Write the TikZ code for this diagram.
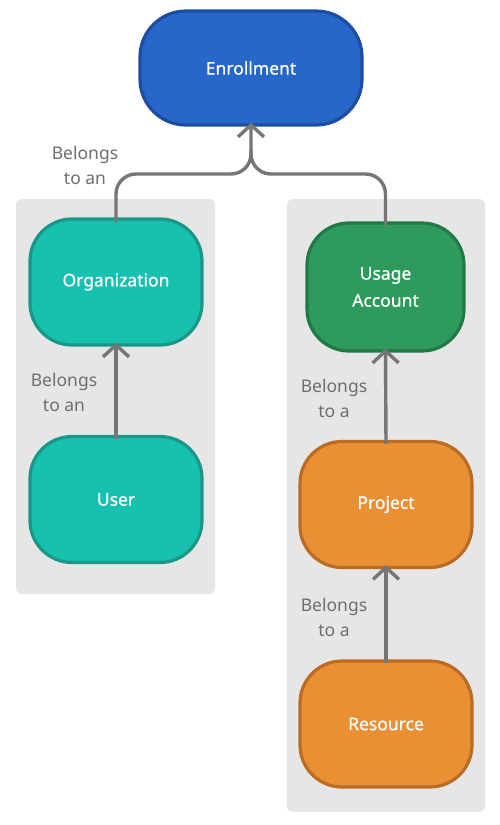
\documentclass[tikz,border=0pt]{standalone}
\usepackage{fontspec}
\setmainfont{Noto Sans}
\newfontfamily\nodefont[FakeBold=0.6]{Noto Sans}
\usetikzlibrary{arrows.meta}
\definecolor{panelgray}{HTML}{E6E6E6}
\definecolor{enrfill}{HTML}{2767C9}
\definecolor{enrdraw}{HTML}{1C4DA3}
\definecolor{tealfill}{HTML}{17C1B0}
\definecolor{tealdraw}{HTML}{1A9787}
\definecolor{greenfill}{HTML}{2E9B5D}
\definecolor{greendraw}{HTML}{217946}
\definecolor{orangefill}{HTML}{E98F34}
\definecolor{orangedraw}{HTML}{BC6C22}
\definecolor{linegray}{HTML}{767676}
\definecolor{labelgray}{HTML}{6E6E6E}
\begin{document}
\begin{tikzpicture}[x=1pt,y=-1pt,
  panel/.style={fill=panelgray, rounded corners=6pt},
  entity/.style={rounded corners=42pt, line width=3.2pt, minimum width=172pt, minimum height=126pt,
    text=white, align=center, font=\nodefont\fontsize{17.5}{27}\selectfont, inner sep=0pt},
  conn/.style={draw=linegray, line width=3.4pt, -{Straight Barb[length=12pt,width=26pt]}},
  lbl/.style={text=labelgray, align=center, font=\fontsize{17.5}{25}\selectfont}]
\useasboundingbox (0,0) rectangle (500,825);
\fill[white] (0,0) rectangle (500,825);
\path[panel] (16,199) rectangle (215,594);
\path[panel] (287,199) rectangle (485,812);

\node[entity, fill=enrfill, draw=enrdraw, minimum width=222pt, minimum height=114pt, rounded corners=46pt] (enr) at (251,68) {Enrollment};
\node[entity, fill=tealfill, draw=tealdraw] (org) at (116,282) {Organization};
\node[entity, fill=tealfill, draw=tealdraw] (user) at (116,499.5) {User};
\node[entity, fill=greenfill, draw=greendraw, minimum width=157pt, minimum height=128pt] (usage) at (385.5,287) {Usage\\Account};
\node[entity, fill=orangefill, draw=orangedraw] (proj) at (386,504.5) {Project};
\node[entity, fill=orangefill, draw=orangedraw] (res) at (386,724) {Resource};

\coordinate (join) at (251,174);
\draw[conn, rounded corners=20pt] ([yshift=-5pt]org.north) |- (join) -- ([yshift=4pt]enr.south);
\draw[draw=linegray, line width=3.4pt, rounded corners=20pt] ([yshift=-4pt]usage.north) |- (join) -- (251,150);
\draw[conn] ([yshift=-4pt]user.north) -- ([yshift=4pt]org.south);
\draw[conn] ([yshift=-4pt]proj.north) -- ([yshift=4pt]usage.south);
\draw[conn] ([yshift=-4pt]res.north) -- ([yshift=4pt]proj.south);

\node[lbl] (l1) at (85,165) {Belongs\\to an};
\node[lbl] (l2) at (64,392) {Belongs\\to an};
\node[lbl] (l3) at (334,398) {Belongs\\to a};
\node[lbl] (l4) at (334,617) {Belongs\\to a};
\end{tikzpicture}
\end{document}
